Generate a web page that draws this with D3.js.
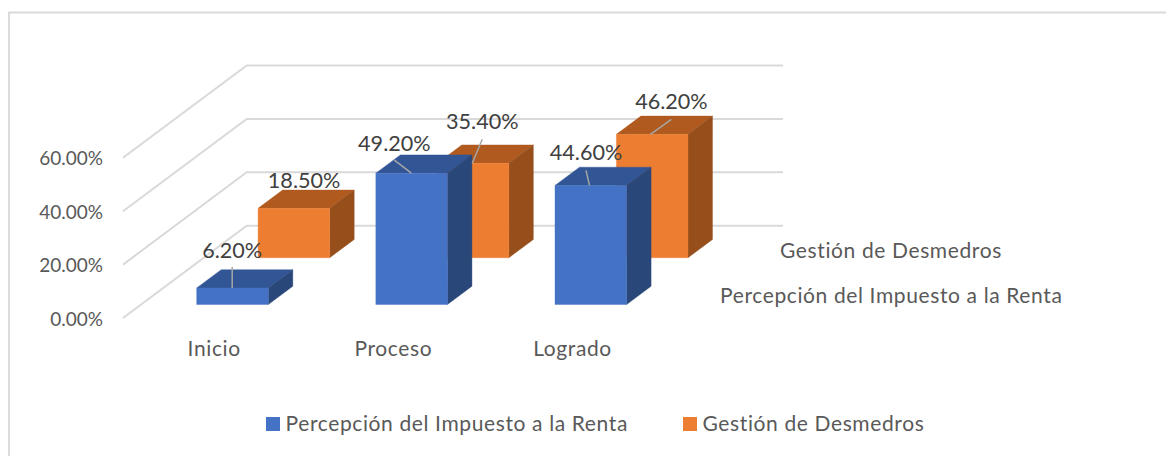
<!DOCTYPE html>
<html><head><meta charset="utf-8">
<script src="https://cdn.jsdelivr.net/npm/d3@7"></script>
<style>html,body{margin:0;padding:0;background:#fff;overflow:hidden}svg{display:block}text{font-family:Lato,sans-serif}</style>
</head><body><svg id="c" width="1166" height="456"></svg>
<script>
const categories = ["Inicio","Proceso","Logrado"];
const seriesNames = ["Percepción del Impuesto a la Renta","Gestión de Desmedros"];
const percepcion = [6.2,49.2,44.6];
const gestion = [18.5,35.4,46.2];
const yTicks = [0,20,40,60];

const svg = d3.select("#c");
const W=1166,H=456;
const ink="#595959";
const fs="21px", ls="0.62px";
svg.append("path").attr("d",`M9,${H}V12.5H${W}`).attr("fill","none").attr("stroke","#d9d9d9").attr("stroke-width",1.8);

// scales
const heightScale = d3.scaleLinear().domain([0,60]).range([0,160.2]);
const xCat = d3.scalePoint().domain(categories).range([196.7,555]);
const barW = 71.6;
const depthX = d3.scaleLinear().domain([0,1]).range([0,123.7]);
const depthY = d3.scaleLinear().domain([0,1]).range([318,225.7]);
const seriesOffset = d3.scaleOrdinal().domain(seriesNames).range([0,61.4]);
const seriesZ = d3.scaleOrdinal().domain(seriesNames).range([0.146,0.653]);
const barDepth = 0.198;
const wallX = 123;

// walls / grid
const grid = svg.append("g").attr("fill","none").attr("stroke","#d9d9d9").attr("stroke-width",2);
yTicks.forEach(t=>{
  const h=heightScale(t);
  grid.append("polyline").attr("points",[
    [wallX,depthY(0)-h],[wallX+depthX(1),depthY(1)-h],[783,depthY(1)-h]].map(p=>p.join(",")).join(" "));
});

// y axis
const yAxisScale = d3.scaleLinear().domain([0,60]).range([318,318-heightScale(60)]);
const yA = svg.append("g").attr("transform","translate(103,1)")
  .call(d3.axisLeft(yAxisScale).tickValues(yTicks).tickSize(0).tickPadding(0).tickFormat(d=>d3.format(".2f")(d)+"%"));
yA.select(".domain").remove();
yA.selectAll("text").attr("fill",ink).style("font-size","19px").style("font-family",'Lato,sans-serif');

// bars
const palette = {
 [seriesNames[0]]:{front:"#4472c4",top:"#325596",side:"#2a4779"},
 [seriesNames[1]]:{front:"#ed7d31",top:"#b05a20",side:"#964f1b"}
};
function drawBar(g,cat,name,v){
  const c=palette[name];
  const z=seriesZ(name);
  const x0=xCat(cat)+seriesOffset(name), x1=x0+barW;
  const yb=depthY(z), yt=yb-heightScale(v);
  const dx=depthX(barDepth), dy=depthY(0)-depthY(barDepth);
  const poly=(pts,f)=>g.append("polygon").attr("points",pts.map(p=>p.join(",")).join(" ")).attr("fill",f).attr("stroke",f).attr("stroke-width",0.4);
  poly([[x0,yt],[x1,yt],[x1+dx,yt-dy],[x0+dx,yt-dy]],c.top);
  poly([[x1,yb],[x1,yt],[x1+dx,yt-dy],[x1+dx,yb-dy]],c.side);
  poly([[x0,yb],[x0,yt],[x1,yt],[x1,yb]],c.front);
}
const barsG=svg.append("g");
categories.forEach((cat,i)=>drawBar(barsG,cat,seriesNames[1],gestion[i]));
categories.forEach((cat,i)=>drawBar(barsG,cat,seriesNames[0],percepcion[i]));

// data labels with leaders
const fmt=v=>d3.format(".2f")(v)+"%";
const labelG=svg.append("g");
function topY(name,v){return depthY(seriesZ(name))-heightScale(v);}
const placements=[
 {n:0,i:0,ax:35.5,lx:35.5,ly:-21,ty:-38},
 {n:1,i:0,ax:0,lx:46,ly:0,ty:-28,noLeader:true},
 {n:0,i:1,ax:35.5,lx:18.5,ly:-13,ty:-30},
 {n:1,i:1,ax:35,lx:45,ly:-24,ty:-42},
 {n:0,i:2,ax:34.5,lx:31,ly:-15,ty:-33},
 {n:1,i:2,ax:34,lx:55,ly:-15,ty:-33}
];
placements.forEach(p=>{
  const name=seriesNames[p.n], v=(p.n?gestion:percepcion)[p.i];
  const x0=xCat(categories[p.i])+seriesOffset(name), yt=topY(name,v);
  if(!p.noLeader) labelG.append("line").attr("x1",x0+p.ax).attr("y1",yt).attr("x2",x0+p.lx).attr("y2",yt+p.ly).attr("stroke","#a6a6a6").attr("stroke-width",1.5);
  labelG.append("text").attr("x",x0+p.lx).attr("y",yt+p.ty).attr("text-anchor","middle").attr("dominant-baseline","central")
    .attr("fill","#404040").style("font-size","21.6px").text(fmt(v));
});

// category labels
svg.append("g").selectAll("text").data(categories).join("text")
  .attr("x",d=>xCat(d)+17.5).attr("y",347).attr("text-anchor","middle").attr("dominant-baseline","central")
  .attr("fill",ink).style("font-size",fs).style("letter-spacing",ls).text(d=>d);

// series axis labels
const sLab=[{t:seriesNames[1],x:780,y:249},{t:seriesNames[0],x:720,y:294.5}];
svg.append("g").selectAll("text").data(sLab).join("text").attr("x",d=>d.x).attr("y",d=>d.y)
  .attr("dominant-baseline","central").attr("fill",ink).style("font-size",fs).style("letter-spacing",ls).text(d=>d.t);

// legend
const leg=[{t:seriesNames[0],x:266},{t:seriesNames[1],x:683}];
const lg=svg.append("g").selectAll("g").data(leg).join("g").attr("transform",d=>`translate(${d.x},417)`);
lg.append("rect").attr("width",14).attr("height",14).attr("fill",d=>palette[d.t].front);
lg.append("text").attr("x",19.5).attr("y",5).attr("dominant-baseline","central").attr("fill",ink).style("font-size",fs).style("letter-spacing",ls).text(d=>d.t);
</script></body></html>
